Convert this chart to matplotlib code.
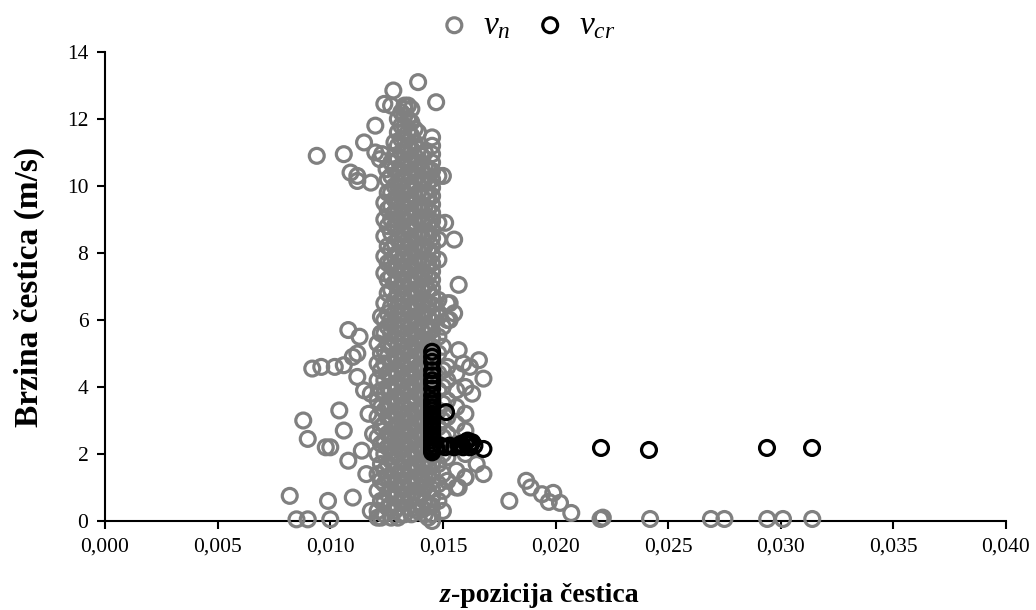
import matplotlib
matplotlib.use("Agg")
import matplotlib.pyplot as plt
from matplotlib.ticker import FuncFormatter, MultipleLocator

plt.rcParams["font.family"] = ["Liberation Serif", "DejaVu Serif"]
plt.rcParams["mathtext.fontset"] = "custom"
plt.rcParams["mathtext.rm"] = "Liberation Serif"
plt.rcParams["mathtext.it"] = "Liberation Serif:italic"
plt.rcParams["mathtext.bf"] = "Liberation Serif:bold"

# v_n : dense body, stored as columns (z position -> speeds)
col_z = [0.0121, 0.0124, 0.0127, 0.0130, 0.0133, 0.0136, 0.0139, 0.0142, 0.01452, 0.0148, 0.0152,
         0.0156, 0.0160,
         0.01225, 0.01255, 0.01285, 0.01315, 0.01345, 0.01375, 0.01405, 0.01435, 0.0150]
col_v = [
    [0.3, 0.9, 1.4, 2.0, 2.5, 3.1, 3.6, 4.2, 4.7, 5.3],
    [0.2, 0.6, 1.1, 1.5, 2.0, 2.4, 2.9, 3.3, 3.8, 4.2, 4.7, 5.1, 5.6, 6.0, 6.5, 7.4, 7.9, 8.5, 9.0, 9.5],
    [0.1, 0.5, 0.9, 1.3, 1.8, 2.2, 2.6, 3.0, 3.5, 3.9, 4.3, 4.7, 5.2, 5.6, 6.0, 6.4, 6.9, 7.3, 7.7,
     8.1, 8.6, 9.0, 9.4, 9.8, 10.3, 10.7],
    [0.1, 0.4, 0.8, 1.2, 1.6, 2.0, 2.4, 2.8, 3.2, 3.6, 4.0, 4.4, 4.8, 5.2, 5.6, 6.0, 6.4, 6.8, 7.2,
     7.6, 8.0, 8.4, 8.8, 9.2, 9.6, 10.0, 10.4, 10.8, 11.2, 11.6, 12.0],
    [0.2, 0.6, 1.0, 1.4, 1.8, 2.2, 2.6, 3.0, 3.4, 3.8, 4.2, 4.6, 5.0, 5.4, 5.8, 6.2, 6.6, 7.0, 7.4,
     7.8, 8.2, 8.6, 9.0, 9.4, 9.8, 10.2, 10.6, 11.0, 11.4, 11.8, 12.1, 12.3],
    [0.2, 0.7, 1.1, 1.5, 1.9, 2.3, 2.7, 3.1, 3.5, 3.9, 4.3, 4.7, 5.1, 5.5, 5.9, 6.3, 6.7, 7.1, 7.5,
     7.9, 8.3, 8.7, 9.1, 9.5, 9.9, 10.3, 10.7, 11.1, 11.5, 11.9],
    [0.3, 0.7, 1.2, 1.6, 2.0, 2.5, 2.9, 3.3, 3.8, 4.2, 4.6, 5.1, 5.5, 5.9, 6.4, 6.8, 7.2, 7.7, 8.1,
     8.5, 9.0, 9.4, 9.8, 10.3, 10.7, 11.1, 11.6],
    [0.2, 0.6, 1.0, 1.4, 1.8, 2.2, 2.6, 3.0, 3.4, 3.8, 4.2, 4.6, 5.0, 5.4, 5.8, 6.2, 6.6, 7.0, 7.4,
     7.8, 8.2, 8.6, 9.0, 9.4, 9.8, 10.2, 10.6, 11.0],
    [0.0, 0.2, 0.45, 0.7, 0.95, 1.2, 1.45, 1.7, 1.95, 2.2, 2.45, 2.7, 2.95, 3.2, 3.45, 3.7, 3.95,
     4.2, 4.45, 4.7, 4.95, 5.2, 5.45, 5.7, 5.95, 6.2, 6.45, 6.7, 6.95, 7.2, 7.45, 7.7, 7.95, 8.2,
     8.45, 8.7, 8.95, 9.2, 9.45, 9.7, 9.95, 10.2, 10.45, 10.7, 10.95, 11.2, 11.45],
    [0.6, 1.1, 1.7, 2.2, 2.8, 3.3, 3.9, 4.4, 5.0, 5.5, 6.1, 6.6, 7.8, 8.4, 8.9, 10.3],
    [1.2, 1.9, 2.6, 3.1, 3.6, 4.2, 4.6, 6.0, 6.5],
    [1.0, 1.5, 2.3, 2.9, 3.4, 3.9, 4.4],
    [1.3, 2.0, 2.7, 3.2, 4.0],
    [0.1, 0.6, 1.2, 1.7, 2.3, 2.8, 3.4, 3.9, 4.5, 5.0, 5.6, 6.1],
    [0.4, 0.8, 1.3, 1.7, 2.2, 2.6, 3.1, 3.5, 4.0, 4.4, 4.9, 5.3, 5.8, 6.2, 6.8, 7.2, 7.7, 8.2, 8.8,
     9.3, 9.8, 10.2],
    [0.3, 0.7, 1.1, 1.5, 2.0, 2.4, 2.8, 3.2, 3.7, 4.1, 4.5, 4.9, 5.4, 5.8, 6.2, 6.6, 7.1, 7.5, 7.9,
     8.3, 8.8, 9.2, 9.6, 10.0, 10.5, 10.9, 11.3],
    [0.2, 0.6, 1.0, 1.4, 1.8, 2.2, 2.6, 3.0, 3.4, 3.8, 4.2, 4.6, 5.0, 5.4, 5.8, 6.2, 6.6, 7.0, 7.4,
     7.8, 8.2, 8.6, 9.0, 9.4, 9.8, 10.2, 10.6, 11.0, 11.4, 11.8, 12.2],
    [0.4, 0.8, 1.2, 1.6, 2.0, 2.4, 2.8, 3.2, 3.6, 4.0, 4.4, 4.8, 5.2, 5.6, 6.0, 6.4, 6.8, 7.2, 7.6,
     8.0, 8.4, 8.8, 9.2, 9.6, 10.0, 10.4, 10.8, 11.2, 11.6, 12.0, 12.4],
    [0.4, 0.9, 1.3, 1.7, 2.1, 2.5, 2.9, 3.3, 3.7, 4.1, 4.5, 4.9, 5.3, 5.7, 6.1, 6.5, 6.9, 7.3, 7.7,
     8.1, 8.5, 8.9, 9.3, 9.7, 10.1, 10.5, 10.9, 11.3, 11.7],
    [0.4, 0.8, 1.3, 1.7, 2.1, 2.5, 2.9, 3.3, 3.7, 4.1, 4.5, 4.9, 5.3, 5.7, 6.1, 6.5, 6.9, 7.3, 7.7,
     8.1, 8.5, 8.9, 9.3, 9.7, 10.1, 10.5, 10.9],
    [0.1, 0.5, 0.9, 1.3, 1.7, 2.1, 2.5, 2.9, 3.3, 3.7, 4.1, 4.5, 4.9, 5.3, 5.7, 6.1, 6.5, 6.9, 7.3,
     7.7, 8.1, 8.5, 8.9, 9.3, 9.7, 10.1, 10.5],
    [0.3, 0.9, 1.4, 2.0, 2.5, 3.0, 3.5, 4.0, 4.5, 5.2, 5.8],
]

# v_n : scattered points
out_z = [0.0139, 0.0128, 0.0147, 0.0124, 0.0127, 0.0133, 0.0136, 0.0094, 0.0106, 0.0120, 0.0115,
         0.0109, 0.0112, 0.0112, 0.0118, 0.0155, 0.0151, 0.0150, 0.0157, 0.0153, 0.0155, 0.0153,
         0.0108, 0.0113, 0.0112, 0.0110, 0.0092, 0.0096, 0.0102, 0.0106, 0.0112, 0.0088, 0.0090,
         0.0098, 0.0100, 0.0104, 0.0106, 0.0108, 0.0082, 0.0085, 0.0090, 0.0100, 0.0099, 0.0110,
         0.0116, 0.0114, 0.0118, 0.0157, 0.0159, 0.0162, 0.0166, 0.0168, 0.0163, 0.0165, 0.0168,
         0.0160, 0.0157, 0.0118, 0.0121, 0.0117, 0.0119, 0.0115, 0.0122, 0.0125, 0.0120, 0.0123,
         0.01795, 0.0187, 0.0189, 0.0194, 0.0199, 0.0197, 0.0202, 0.0207, 0.0220, 0.0221, 0.0242,
         0.0269, 0.0275, 0.0294, 0.0301, 0.0314]
out_v = [13.1, 12.85, 12.5, 12.45, 12.4, 12.4, 12.3, 10.9, 10.95, 11.8, 11.3,
         10.4, 10.3, 10.15, 10.1, 8.4, 8.9, 10.3, 7.05, 6.5, 6.2, 6.0,
         5.7, 5.5, 5.0, 4.9, 4.55, 4.6, 4.6, 4.65, 4.3, 3.0, 2.45,
         2.2, 2.2, 3.3, 2.7, 1.8, 0.75, 0.05, 0.05, 0.05, 0.6, 0.7,
         1.4, 2.1, 3.8, 5.1, 4.7, 4.6, 4.8, 4.25, 3.8, 1.7, 1.4,
         1.3, 1.0, 0.3, 0.1, 3.2, 2.6, 3.9, 10.8, 10.5, 11.0, 10.95,
         0.6, 1.2, 1.0, 0.8, 0.84, 0.57, 0.54, 0.24, 0.06, 0.1, 0.06,
         0.06, 0.06, 0.06, 0.06, 0.06]

# v_cr
cr_z = [0.01452] * 26 + [0.0147, 0.0149, 0.0151, 0.0153, 0.0155, 0.0157, 0.0158, 0.0159, 0.0160,
                         0.0161, 0.0162, 0.0162, 0.0163, 0.0164, 0.0168, 0.01514,
                         0.02202, 0.02415, 0.02939, 0.03139]
cr_v = [2.05, 2.12, 2.2, 2.3, 2.4, 2.5, 2.6, 2.7, 2.8, 2.9, 3.0, 3.1, 3.2, 3.3, 3.4, 3.5, 3.6,
        3.75, 3.95, 4.1, 4.2, 4.35, 4.5, 4.75, 4.9, 5.05,
        2.2, 2.25, 2.2, 2.25, 2.2, 2.25, 2.3, 2.2, 2.35, 2.4, 2.3, 2.2, 2.35, 2.25, 2.15, 3.25,
        2.18, 2.12, 2.18, 2.18]

vn_z = [z for z, vs in zip(col_z, col_v) for _ in vs] + out_z
vn_v = [v for vs in col_v for v in vs] + out_v

fig = plt.figure(figsize=(10.36, 6.10), dpi=100)
ax = fig.add_axes([0.1014, 0.1459, 0.8696, 0.7689])

ax.scatter(vn_z, vn_v, s=115, facecolors="none", edgecolors="#808080", linewidths=2.3,
           label=r"$v_n$", clip_on=False, zorder=3)
ax.scatter(cr_z, cr_v, s=115, facecolors="none", edgecolors="black", linewidths=2.3,
           label=r"$v_{cr}$", clip_on=False, zorder=4)

ax.set_xlim(0, 0.040)
ax.set_ylim(0, 14)
ax.xaxis.set_major_locator(MultipleLocator(0.005))
ax.yaxis.set_major_locator(MultipleLocator(2))
ax.xaxis.set_major_formatter(FuncFormatter(lambda v, p: f"{v:.3f}".replace(".", ",")))
ax.yaxis.set_major_formatter(FuncFormatter(lambda v, p: f"{v:.0f}"))

ax.spines["top"].set_visible(False)
ax.spines["right"].set_visible(False)
ax.spines["left"].set_linewidth(1.5)
ax.spines["bottom"].set_linewidth(1.5)
ax.tick_params(direction="out", length=6, width=1.5, labelsize=15.5, pad=6)

ax.set_ylabel("Brzina čestica (m/s)", fontsize=24, fontweight="bold", labelpad=16)

# x label: bold italic "z" followed by bold text
zlab = ax.text(0.372, -0.172, "z", transform=ax.transAxes, fontsize=20, fontweight="bold",
               fontstyle="italic", ha="left", va="baseline")
ax.annotate("-pozicija čestica", xy=(1, 0), xycoords=zlab, fontsize=20, fontweight="bold",
            ha="left", va="bottom")

leg = ax.legend(loc="lower center", bbox_to_anchor=(0.462, 0.995), ncol=2, frameon=False,
                fontsize=24, handletextpad=0.05, columnspacing=0.4, borderaxespad=0.0,
                handlelength=1.6)

fig.savefig("out.png", dpi=100)
